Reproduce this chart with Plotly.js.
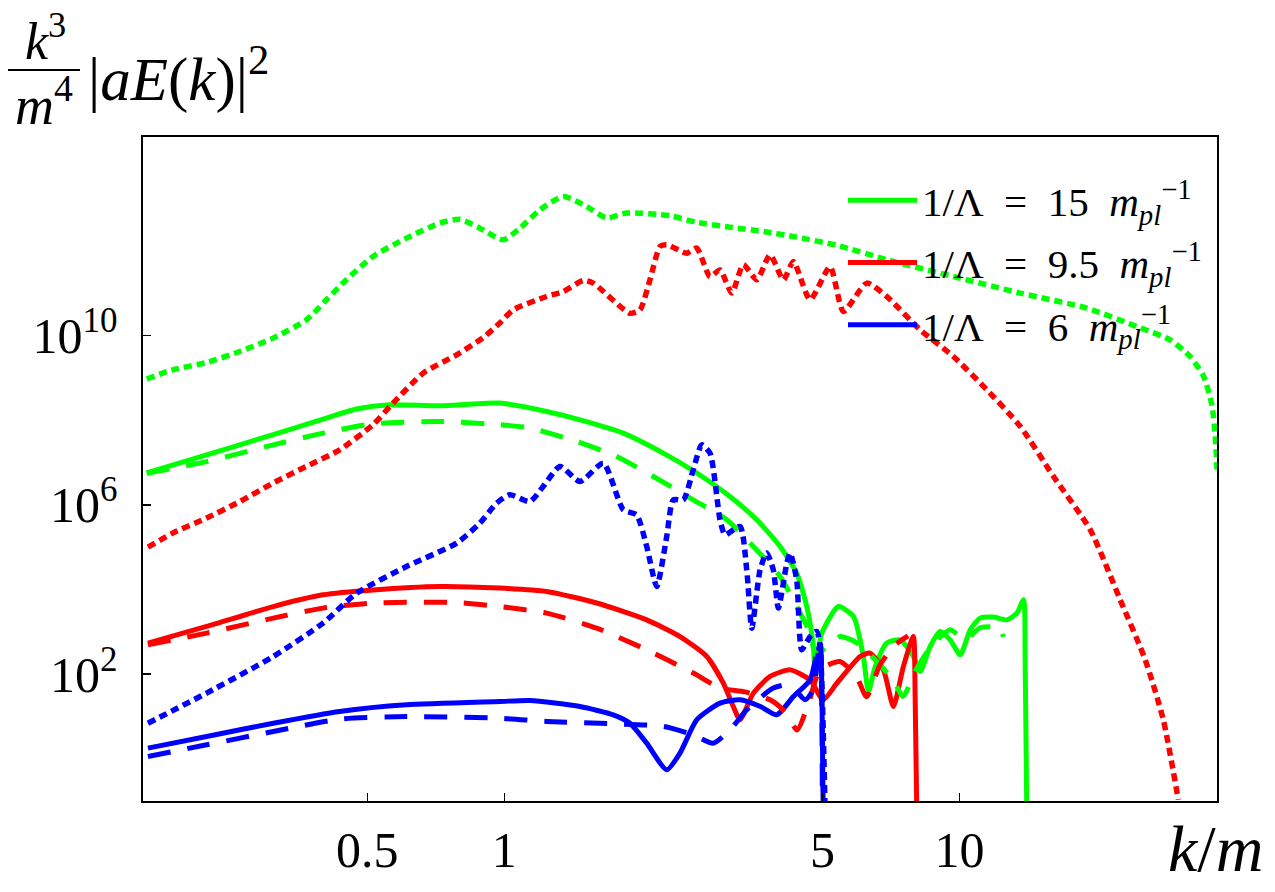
<!DOCTYPE html>
<html>
<head>
<meta charset="utf-8">
<script src="https://cdn.plot.ly/plotly-3.0.1.min.js"></script>
<style>
  html, body { margin: 0; padding: 0; background: #ffffff; }
  #chart { width: 1275px; height: 892px; }
</style>
</head>
<body>
<div id="chart"></div>
<script>
// Spectra k^3/m^4 |aE(k)|^2 against k/m for three couplings 1/Λ.
// Solid, dashed and dotted curves per coupling.

// 1/Λ = 15 m_pl^-1 (green)
const kSolid15 = [0.164, 0.222, 0.311, 0.400, 0.474, 0.561, 0.722, 0.978, 1.239, 1.467, 1.826, 2.236, 2.648, 3.133, 3.587, 4.036, 4.39, 4.62, 4.776, 4.818, 4.984, 5.42, 5.85, 6.15, 6.31, 6.53, 6.92, 7.41, 7.92, 8.20, 8.62, 9.07, 9.54, 10.04, 10.56, 11.10, 11.88, 12.72, 13.37, 13.83, 13.94, 14.06];
const eSolid15 = [5.7e6, 1.53e7, 4.6e7, 1.07e8, 1.85e8, 2.33e8, 2.21e8, 2.56e8, 1.62e8, 1.03e8, 5.0e7, 1.68e7, 5.7e6, 1.58e6, 4.46e5, 1.04e5, 2.44e4, 3960, 450, 126, 931, 3960, 2300, 261, 38.8, 151, 541, 647, 261, 115, 450, 1020, 647, 286, 1120, 2110, 2230, 1920, 2770, 5700, 218, 0.05];
const kDashed15 = [0.164, 0.222, 0.311, 0.400, 0.515, 0.722, 0.978, 1.139, 1.443, 1.766, 2.126, 2.602, 3.083, 3.526, 4.036, 4.39, 4.698, 4.84, 5.11, 5.47, 5.90, 6.53, 7.15, 7.52, 7.99, 8.62, 9.54, 10.29, 11.10, 12.29, 12.48];
const eDashed15 = [5.6e6, 1.06e7, 2.64e7, 5.0e7, 8.3e7, 9.4e7, 7.9e7, 6.6e7, 3.16e7, 1.40e7, 4.7e6, 1.32e6, 4.46e5, 1.04e5, 2.03e4, 3960, 931, 286, 450, 774, 581, 218, 73, 29.5, 115, 419, 1120, 647, 1240, 1240, 762];
const kDotted15 = [0.164, 0.187, 0.222, 0.2625, 0.3107, 0.368, 0.407, 0.450, 0.515, 0.610, 0.722, 0.799, 0.884, 0.995, 1.083, 1.198, 1.348, 1.517, 1.679, 1.858, 2.313, 2.648, 3.133, 3.71, 4.39, 5.38, 6.92, 9.70, 13.60, 19.05, 24.5, 29.0, 32.1, 34.4, 35.9, 36.5, 36.8];
const eDotted15 = [9.5e8, 1.57e9, 2.33e9, 4.25e9, 8.8e9, 2.39e10, 7.1e10, 2.11e11, 7.5e11, 2.04e12, 4.6e12, 5.7e12, 3.5e12, 1.86e12, 3.5e12, 9.5e12, 1.96e13, 1.14e13, 6.1e12, 8.0e12, 6.9e12, 4.8e12, 3.7e12, 2.92e12, 2.15e12, 1.38e12, 6.3e11, 2.52e11, 1.02e11, 4.5e10, 1.66e10, 8.0e9, 3.24e9, 1.09e9, 2.13e8, 3.5e7, 6.8e6];

// 1/Λ = 9.5 m_pl^-1 (red)
const kSolid95 = [0.165, 0.222, 0.311, 0.400, 0.515, 0.722, 0.978, 1.239, 1.596, 2.056, 2.433, 2.786, 3.029, 3.186, 3.296, 3.526, 3.837, 4.246, 4.698, 5.02, 5.38, 6.05, 6.36, 6.81, 7.16, 7.53, 7.92, 7.99, 8.06];
const eSolid95 = [541, 1340, 3960, 7500, 9800, 1.18e4, 1.08e4, 8980, 4800, 1920, 774, 261, 61, 17.1, 8.3, 35.6, 88, 126, 73, 24.7, 61, 261, 314, 126, 17.1, 151, 774, 35.6, 0.05];
const kDashed95 = [0.165, 0.222, 0.311, 0.400, 0.515, 0.786, 0.978, 1.239, 1.596, 2.056, 2.602, 2.979, 3.381, 3.837, 4.14, 4.40, 4.65, 4.94, 5.46, 5.94, 6.25, 6.69, 7.22, 7.71];
const eDashed95 = [493, 931, 2110, 3640, 4800, 4930, 3960, 2770, 1220, 376, 106, 47, 38, 24.7, 12.8, 4.8, 18.8, 126, 199, 88, 29, 166, 493, 805];
const kDotted95 = [0.165, 0.187, 0.222, 0.2625, 0.3107, 0.368, 0.435, 0.515, 0.570, 0.664, 0.786, 0.899, 0.978, 1.047, 1.239, 1.348, 1.491, 1.569, 1.889, 1.987, 2.09, 2.199, 2.275, 2.517, 2.648, 2.832, 2.979, 3.161, 3.352, 3.587, 3.837, 4.105, 4.317, 4.698, 5.197, 5.56, 6.26, 6.92, 8.20, 9.70, 11.48, 13.60, 16.09, 19.38, 22.55, 25.59, 28.04, 30.25];
const eDotted95 = [1.0e5, 2.16e5, 4.9e5, 1.2e6, 3.3e6, 8.2e6, 2.0e7, 7.9e7, 2.56e8, 1.31e9, 3.55e9, 9.0e9, 2.0e10, 4.1e10, 8.5e10, 1.11e11, 2.03e11, 1.76e11, 3.4e10, 4.1e10, 2.1e11, 1.29e12, 1.42e12, 9.0e11, 1.18e12, 2.5e11, 3.6e11, 1.02e11, 4.8e11, 2.1e11, 8.2e11, 2.1e11, 5.7e11, 7.1e10, 4.3e11, 3.75e10, 1.76e11, 8.5e10, 1.38e10, 3.24e9, 5.3e8, 7.2e7, 4.7e6, 2.58e5, 5700, 218, 8.3, 0.107];

// 1/Λ = 6 m_pl^-1 (blue)
const kSolid6 = [0.165, 0.222, 0.311, 0.435, 0.610, 0.978, 1.139, 1.467, 1.736, 1.889, 2.056, 2.275, 2.433, 2.648, 2.979, 3.296, 3.654, 3.969, 4.317, 4.698, 4.86, 4.94, 4.99, 5.02];
const eSolid6 = [1.78, 3.34, 6.9, 13.1, 18.8, 22.5, 23.8, 17.1, 10.9, 6.9, 2.33, 0.546, 1.36, 8.3, 20.6, 24.7, 17.1, 10.9, 29.5, 73, 314, 493, 24.7, 0.05];
const kDashed6 = [0.165, 0.222, 0.311, 0.435, 0.610, 0.978, 1.239, 1.736, 2.236, 2.602, 2.879, 3.133, 3.41, 3.90, 4.246, 4.58, 4.77, 4.94, 5.0];
const eDashed6 = [1.13, 2.13, 4.4, 8.6, 9.9, 9.1, 7.6, 6.7, 5.8, 3.67, 2.33, 4.8, 14.3, 47, 56, 24.7, 42.6, 647, 0.05];
const kDotted6 = [0.165, 0.222, 0.311, 0.400, 0.474, 0.610, 0.786, 0.884, 0.962, 1.029, 1.139, 1.218, 1.326, 1.467, 1.651, 1.826, 1.954, 2.056, 2.163, 2.275, 2.352, 2.474, 2.602, 2.715, 2.832, 2.979, 3.055, 3.296, 3.41, 3.498, 3.648, 3.773, 3.90, 4.002, 4.176, 4.246, 4.39, 4.503, 4.698, 4.86, 4.94, 5.07];
const eDotted6 = [6.9, 35.6, 261, 1610, 8200, 3.5e4, 1.25e5, 3.7e5, 1.10e6, 1.74e6, 1.2e6, 2.73e6, 8.1e6, 3.58e6, 9.7e6, 7.7e5, 5.8e5, 1.04e5, 1.18e4, 1.8e5, 1.32e6, 1.32e6, 6.8e6, 2.64e7, 1.68e7, 4.46e5, 1.97e5, 3.1e5, 2.92e4, 1220, 2.92e4, 7.3e4, 2.92e4, 3640, 4.2e4, 7.3e4, 1.7e4, 376, 774, 1020, 450, 0.05];

const legendNames = [
  '1/Λ\u2002=\u200215\u2002<i>m</i><sub><i>pl</i></sub><sup>−1</sup>',
  '1/Λ\u2002=\u20029.5\u2002<i>m</i><sub><i>pl</i></sub><sup>−1</sup>',
  '1/Λ\u2002=\u20026\u2002<i>m</i><sub><i>pl</i></sub><sup>−1</sup>'
];
const xTickVals = [0.5, 1, 5, 10];
const xTickText = ['0.5', '1', '5', '10'];
const yTickVals = [1e2, 1e6, 1e10];
const yTickText = ['10<sup>2</sup>', '10<sup>6</sup>', '10<sup>10</sup>'];

const GREEN = '#00ff00', RED = '#ff0000', BLUE = '#0000ff';
const FONT = 'Liberation Serif';
const DASHED = '23px,17px';
const DOTTED = '8px,5px';

function curve(x, y, color, dash, width, name, group, inLegend) {
  return {
    type: 'scatter', mode: 'lines', x: x, y: y,
    name: name || ' ', legendgroup: group, showlegend: !!inLegend,
    line: { color: color, dash: dash, width: width, shape: 'spline', smoothing: 0.6 },
    hoverinfo: 'skip'
  };
}

const traces = [
  curve(kSolid15, eSolid15, GREEN, 'solid', 5, legendNames[0], 'g15', true),
  curve(kSolid95, eSolid95, RED, 'solid', 5, legendNames[1], 'g95', true),
  curve(kSolid6, eSolid6, BLUE, 'solid', 5, legendNames[2], 'g6', true),
  curve(kDashed15, eDashed15, GREEN, DASHED, 5, '', 'g15', false),
  curve(kDashed95, eDashed95, RED, DASHED, 5, '', 'g95', false),
  curve(kDashed6, eDashed6, BLUE, DASHED, 5, '', 'g6', false),
  curve(kDotted15, eDotted15, GREEN, DOTTED, 5.5, '', 'g15', false),
  curve(kDotted95, eDotted95, RED, DOTTED, 5.5, '', 'g95', false),
  curve(kDotted6, eDotted6, BLUE, DOTTED, 5.5, '', 'g6', false)
];

// plot area: 143..1217 px horizontally, 137..801 px vertically
const L = 143, T = 137, W = 1074, H = 664;
const px = v => (v - L) / W;
const py = v => (T + H - v) / H;

const layout = {
  width: 1275, height: 892,
  margin: { l: L, r: 1275 - L - W, t: T, b: 892 - T - H, pad: 0 },
  paper_bgcolor: '#ffffff', plot_bgcolor: '#ffffff',
  font: { family: FONT, color: '#000000', size: 48 },
  showlegend: true,
  xaxis: {
    type: 'log', range: [-0.7934, 1.5657],
    tickmode: 'array', tickvals: xTickVals, ticktext: xTickText,
    ticks: 'inside', ticklen: 8, tickwidth: 1.3, tickcolor: '#000',
    showgrid: false, zeroline: false,
    showline: true, linecolor: '#000', linewidth: 1.6, mirror: true,
    tickfont: { family: FONT, size: 50, color: '#000' },
    ticklabelstandoff: 4
  },
  yaxis: {
    type: 'log', range: [-1.0, 14.70],
    tickmode: 'array', tickvals: yTickVals, ticktext: yTickText,
    ticks: 'inside', ticklen: 8, tickwidth: 1.3, tickcolor: '#000',
    showgrid: false, zeroline: false,
    showline: true, linecolor: '#000', linewidth: 1.6, mirror: true,
    tickfont: { family: FONT, size: 50, color: '#000' },
    ticklabelstandoff: 14
  },
  legend: {
    x: px(843), xanchor: 'left', y: py(167), yanchor: 'top',
    bgcolor: 'rgba(0,0,0,0)', borderwidth: 0,
    font: { family: FONT, size: 41, color: '#000' },
    itemwidth: 69, tracegroupgap: 6, traceorder: 'grouped'
  },
  shapes: [
    { type: 'line', xref: 'paper', yref: 'paper', x0: px(8), x1: px(80), y0: py(70), y1: py(70),
      line: { color: '#000', width: 2 } }
  ],
  annotations: [
    { xref: 'paper', yref: 'paper', x: px(45), y: py(38), xanchor: 'center', yanchor: 'middle',
      text: '<i>k</i><sup>3</sup>', showarrow: false, font: { family: FONT, size: 52 } },
    { xref: 'paper', yref: 'paper', x: px(44), y: py(101), xanchor: 'center', yanchor: 'middle',
      text: '<i>m</i><sup>4</sup>', showarrow: false, font: { family: FONT, size: 54 } },
    { xref: 'paper', yref: 'paper', x: px(86), y: py(75), xanchor: 'left', yanchor: 'middle',
      text: '|<i>aE</i>(<i>k</i>)|<sup>2</sup>', showarrow: false, font: { family: FONT, size: 61 } },
    { xref: 'paper', yref: 'paper', x: px(1215), y: py(848), xanchor: 'center', yanchor: 'middle',
      text: '<i>k</i>/<i>m</i>', showarrow: false, font: { family: FONT, size: 66 } }
  ]
};

Plotly.newPlot('chart', traces, layout, { displayModeBar: false, staticPlot: true });
</script>
</body>
</html>
